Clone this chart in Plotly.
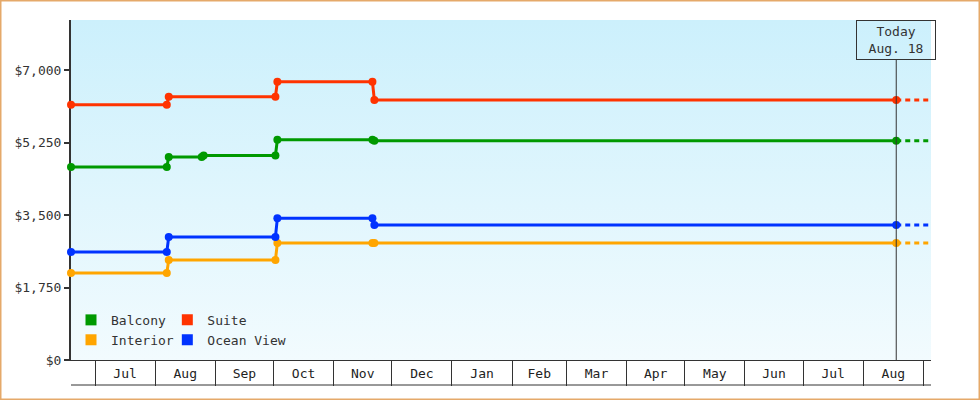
import base64
import plotly.graph_objects as go

# date window shown on the chart
START = "2018-06-18 15:00"
TODAY = "2019-08-18"
RANGE_END = "2019-09-04 22:00"

SERIES = ["Balcony", "Suite", "Interior", "Ocean View"]
COLORS = ["#009900", "#ff3300", "#ffa500", "#0033ff"]

# price observations per cabin type (first observation is the left edge of the chart)
balcony_dates = [START, "2018-08-07", "2018-08-08", "2018-08-25", "2018-08-26",
                 "2018-10-02", "2018-10-03", "2018-11-21", "2018-11-22", TODAY]
balcony_prices = [4665, 4665, 4905, 4905, 4945, 4945, 5325, 5325, 5300, 5300]

suite_dates = [START, "2018-08-07", "2018-08-08", "2018-10-02", "2018-10-03",
               "2018-11-21", "2018-11-22", TODAY]
suite_prices = [6170, 6170, 6365, 6365, 6725, 6725, 6285, 6285]

interior_dates = [START, "2018-08-07", "2018-08-08", "2018-10-02", "2018-10-03",
                  "2018-11-21", "2018-11-22", TODAY]
interior_prices = [2105, 2105, 2415, 2415, 2830, 2830, 2830, 2830]

ocean_dates = [START, "2018-08-07", "2018-08-08", "2018-10-02", "2018-10-03",
               "2018-11-21", "2018-11-22", TODAY]
ocean_prices = [2610, 2610, 2975, 2975, 3430, 3430, 3265, 3265]

Y_TICKS = [0, 1750, 3500, 5250, 7000]
Y_LABELS = ["$" + format(v, ",") for v in Y_TICKS]
Y_MAX = 8220

FONT = "DejaVu Sans Mono, monospace"

data = [
    (balcony_dates, balcony_prices),
    (suite_dates, suite_prices),
    (interior_dates, interior_prices),
    (ocean_dates, ocean_prices),
]
legends = ["legend", "legend2", "legend", "legend2"]

fig = go.Figure()

for name, color, (dates, prices), lg in zip(SERIES, COLORS, data, legends):
    # price history
    fig.add_trace(go.Scatter(
        x=dates, y=prices, mode="lines+markers", name=name, legendgroup=name,
        showlegend=False, cliponaxis=False,
        line=dict(color=color, width=3),
        marker=dict(color=color, size=8, symbol="circle"),
    ))
    # projection after today
    fig.add_trace(go.Scatter(
        x=[dates[-1], RANGE_END], y=[prices[-1], prices[-1]], mode="lines",
        legendgroup=name, showlegend=False, hoverinfo="skip",
        line=dict(color=color, width=3, dash="5px,4px"),
    ))
    # square legend swatch
    fig.add_trace(go.Scatter(
        x=[None], y=[None], mode="markers", name=name, legendgroup=name, legend=lg,
        marker=dict(color=color, size=11, symbol="square"),
    ))

# vertical gradient behind the plot area
svg = ('<svg xmlns="http://www.w3.org/2000/svg" width="10" height="100" viewBox="0 0 10 100" '
       'preserveAspectRatio="none"><defs><linearGradient id="g" x1="0" y1="0" x2="0" y2="1">'
       '<stop offset="0" stop-color="#ccf0fc"/><stop offset="1" stop-color="#f2fbfe"/>'
       '</linearGradient></defs><rect width="10" height="100" fill="url(#g)"/></svg>')
bg_src = "data:image/svg+xml;base64," + base64.b64encode(svg.encode()).decode()

W, H = 980, 400
ML, MR, MT, MB = 71, 49, 20, 40
PW, PH = W - ML - MR, H - MT - MB

legend_style = dict(yanchor="top", xanchor="left", bgcolor="rgba(0,0,0,0)", tracegroupgap=0,
                    font=dict(family=FONT, size=13, color="#333"))

fig.update_layout(
    width=W, height=H,
    margin=dict(l=ML, r=MR, t=MT, b=MB),
    paper_bgcolor="white",
    plot_bgcolor="#e0f6fd",
    font=dict(family=FONT, size=13, color="#333"),
    images=[dict(source=bg_src, xref="paper", yref="paper", x=0, y=1, sizex=1, sizey=1,
                 xanchor="left", yanchor="top", sizing="stretch", layer="below")],
    xaxis=dict(
        type="date", range=[START, RANGE_END],
        dtick="M1", tick0="2018-07-01", tickformat="%b", ticklabelmode="period",
        ticks="outside", ticklen=25, tickwidth=1, tickcolor="#333",
        ticklabelstandoff=-24,
        showline=True, linewidth=1, linecolor="#333",
        showgrid=False, zeroline=False,
        tickfont=dict(family=FONT, size=13, color="#222"),
    ),
    yaxis=dict(
        range=[0, Y_MAX], tickvals=Y_TICKS, ticktext=Y_LABELS,
        ticks="outside", ticklen=5, tickwidth=2, tickcolor="#333",
        showline=True, linewidth=2, linecolor="#333", layer="below traces",
        showgrid=False, zeroline=False,
        tickfont=dict(family=FONT, size=13, color="#333"),
    ),
    legend=dict(x=0.0, y=0.162, **legend_style),
    legend2=dict(x=0.112, y=0.162, **legend_style),
    shapes=[
        # bottom edge of the month band
        dict(type="line", xref="paper", yref="paper", x0=0, x1=1, y0=-25 / PH, y1=-25 / PH,
             line=dict(color="#333", width=1)),
        # today marker line
        dict(type="line", xref="x", yref="paper", x0=TODAY, x1=TODAY, y0=0, y1=1 - 40 / PH,
             line=dict(color="#333", width=1)),
        # outer frame
        dict(type="rect", xref="paper", yref="paper",
             x0=-ML / PW, x1=1 + MR / PW, y0=-MB / PH, y1=1 + MT / PH,
             line=dict(color="#e5a96a", width=3)),
    ],
    annotations=[
        dict(x=TODAY, y=1, xref="x", yref="paper", xanchor="center", yanchor="top",
             text="Today<br>Aug. 18", showarrow=False, width=78, height=38,
             bordercolor="#333", borderwidth=1, borderpad=0,
             font=dict(family=FONT, size=13, color="#333")),
    ],
)

fig.write_html("out.html", config={"displayModeBar": False},
               post_script="document.body.style.margin='0';")
